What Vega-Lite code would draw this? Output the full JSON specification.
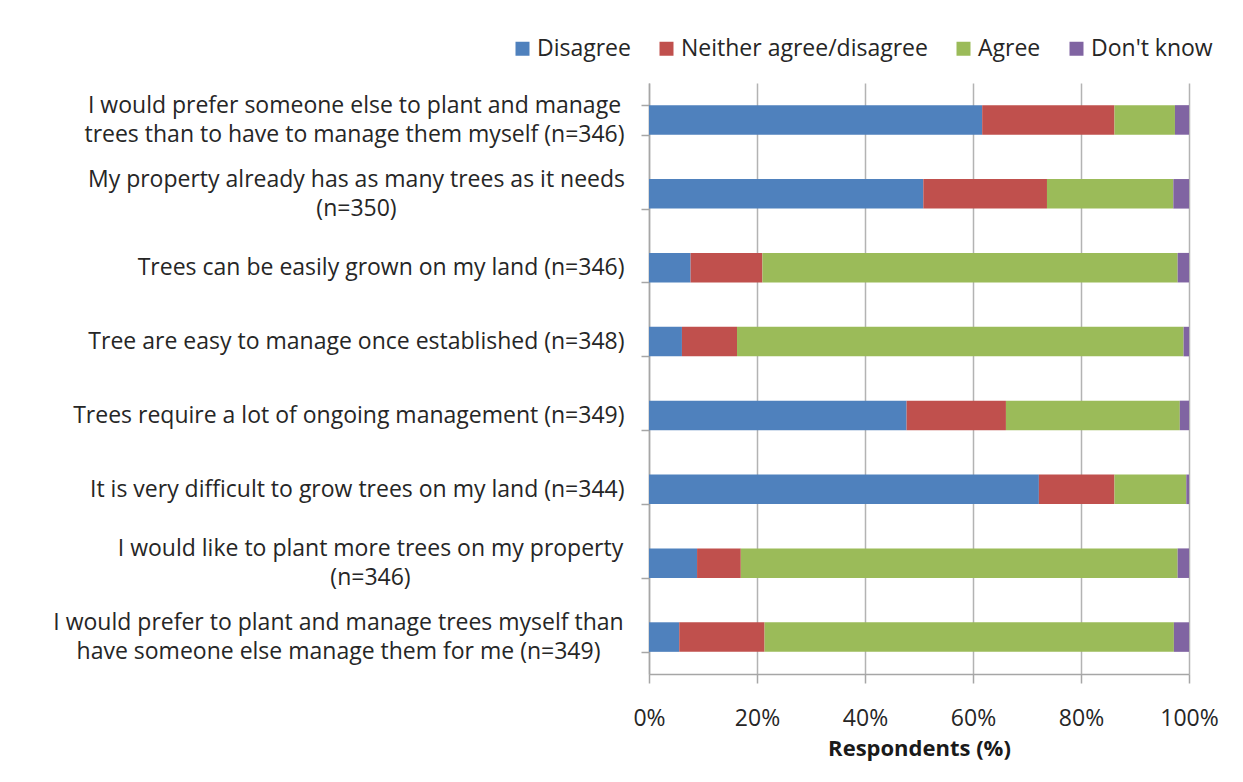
{
  "$schema": "https://vega.github.io/schema/vega-lite/v6.json",
  "autosize": {"type": "none"},
  "padding": {"left": 649, "top": 83, "right": 54, "bottom": 108},
  "width": 540,
  "height": 591,
  "background": "white",
  "config": {
    "view": {"stroke": null},
    "font": "Open Sans"
  },
  "data": {
    "values": [
      {"q": "q1", "qo": 1, "resp": "Disagree", "ro": 1, "pct": 61.7},
      {"q": "q1", "qo": 1, "resp": "Neither agree/disagree", "ro": 2, "pct": 24.5},
      {"q": "q1", "qo": 1, "resp": "Agree", "ro": 3, "pct": 11.2},
      {"q": "q1", "qo": 1, "resp": "Don't know", "ro": 4, "pct": 2.6},
      {"q": "q2", "qo": 2, "resp": "Disagree", "ro": 1, "pct": 50.8},
      {"q": "q2", "qo": 2, "resp": "Neither agree/disagree", "ro": 2, "pct": 22.9},
      {"q": "q2", "qo": 2, "resp": "Agree", "ro": 3, "pct": 23.4},
      {"q": "q2", "qo": 2, "resp": "Don't know", "ro": 4, "pct": 2.9},
      {"q": "q3", "qo": 3, "resp": "Disagree", "ro": 1, "pct": 7.7},
      {"q": "q3", "qo": 3, "resp": "Neither agree/disagree", "ro": 2, "pct": 13.3},
      {"q": "q3", "qo": 3, "resp": "Agree", "ro": 3, "pct": 76.9},
      {"q": "q3", "qo": 3, "resp": "Don't know", "ro": 4, "pct": 2.1},
      {"q": "q4", "qo": 4, "resp": "Disagree", "ro": 1, "pct": 6.1},
      {"q": "q4", "qo": 4, "resp": "Neither agree/disagree", "ro": 2, "pct": 10.2},
      {"q": "q4", "qo": 4, "resp": "Agree", "ro": 3, "pct": 82.7},
      {"q": "q4", "qo": 4, "resp": "Don't know", "ro": 4, "pct": 1.0},
      {"q": "q5", "qo": 5, "resp": "Disagree", "ro": 1, "pct": 47.7},
      {"q": "q5", "qo": 5, "resp": "Neither agree/disagree", "ro": 2, "pct": 18.4},
      {"q": "q5", "qo": 5, "resp": "Agree", "ro": 3, "pct": 32.2},
      {"q": "q5", "qo": 5, "resp": "Don't know", "ro": 4, "pct": 1.7},
      {"q": "q6", "qo": 6, "resp": "Disagree", "ro": 1, "pct": 72.2},
      {"q": "q6", "qo": 6, "resp": "Neither agree/disagree", "ro": 2, "pct": 14.0},
      {"q": "q6", "qo": 6, "resp": "Agree", "ro": 3, "pct": 13.3},
      {"q": "q6", "qo": 6, "resp": "Don't know", "ro": 4, "pct": 0.5},
      {"q": "q7", "qo": 7, "resp": "Disagree", "ro": 1, "pct": 8.9},
      {"q": "q7", "qo": 7, "resp": "Neither agree/disagree", "ro": 2, "pct": 8.1},
      {"q": "q7", "qo": 7, "resp": "Agree", "ro": 3, "pct": 80.9},
      {"q": "q7", "qo": 7, "resp": "Don't know", "ro": 4, "pct": 2.1},
      {"q": "q8", "qo": 8, "resp": "Disagree", "ro": 1, "pct": 5.6},
      {"q": "q8", "qo": 8, "resp": "Neither agree/disagree", "ro": 2, "pct": 15.8},
      {"q": "q8", "qo": 8, "resp": "Agree", "ro": 3, "pct": 75.8},
      {"q": "q8", "qo": 8, "resp": "Don't know", "ro": 4, "pct": 2.8}
    ]
  },
  "mark": {"type": "bar"},
  "encoding": {
    "y": {
      "field": "q",
      "type": "nominal",
      "sort": {"field": "qo", "op": "min", "order": "ascending"},
      "scale": {"paddingInner": 0.6, "paddingOuter": 0.3},
      "axis": {
        "title": null,
        "labelExpr": "datum.value == 'q1' ? ['I would prefer someone else to plant and manage', 'trees than to have to manage them myself (n=346)'] : datum.value == 'q2' ? ['My property already has as many trees as it needs', '(n=350)'] : datum.value == 'q3' ? 'Trees can be easily grown on my land (n=346)' : datum.value == 'q4' ? 'Tree are easy to manage once established (n=348)' : datum.value == 'q5' ? 'Trees require a lot of ongoing management (n=349)' : datum.value == 'q6' ? 'It is very difficult to grow trees on my land (n=344)' : datum.value == 'q7' ? ['I would like to plant more trees on my property', '(n=346)'] : datum.value == 'q8' ? ['I would prefer to plant and manage trees myself than', 'have someone else manage them for me (n=349)'] : ''",
        "labelFontSize": 23,
        "labelColor": "#262626",
        "labelLineHeight": 29,
        "labelLimit": 700,
        "labelAlign": {"condition": {"test": "datum.value == 'q1' || datum.value == 'q2' || datum.value == 'q7' || datum.value == 'q8'", "value": "center"}, "value": "right"},
        "labelOffset": {"condition": {"test": "datum.value == 'q1' || datum.value == 'q2' || datum.value == 'q7' || datum.value == 'q8'", "value": -14.5}, "value": 0},
        "labelPadding": {"condition": [
          {"test": "datum.value == 'q1'", "value": 287},
          {"test": "datum.value == 'q2'", "value": 285},
          {"test": "datum.value == 'q7'", "value": 271},
          {"test": "datum.value == 'q8'", "value": 303}
        ], "value": 17},
        "tickBand": "extent",
        "tickSize": 8,
        "tickColor": "#a6a6a6",
        "tickWidth": 1.5,
        "domainColor": "#a6a6a6",
        "domainWidth": 1.5
      }
    },
    "x": {
      "field": "pct",
      "type": "quantitative",
      "stack": "normalize",
      "scale": {"domain": [0, 1]},
      "axis": {
        "title": "Respondents (%)",
        "titleFontSize": 22,
        "titleFontWeight": "bold",
        "titleColor": "#1a1a1a",
        "titlePadding": 8,
        "format": ".0%",
        "values": [0, 0.2, 0.4, 0.6, 0.8, 1],
        "labelFontSize": 23,
        "labelColor": "#262626",
        "labelPadding": 24,
        "labelFlush": false,
        "tickSize": 9,
        "tickColor": "#a6a6a6",
        "tickWidth": 1.5,
        "domainColor": "#a6a6a6",
        "domainWidth": 1.5,
        "grid": true,
        "gridColor": "#b3b3b3",
        "gridWidth": 1.5
      }
    },
    "color": {
      "field": "resp",
      "type": "nominal",
      "scale": {
        "domain": ["Disagree", "Neither agree/disagree", "Agree", "Don't know"],
        "range": ["#4F81BD", "#C0504D", "#9BBB59", "#8064A2"]
      },
      "legend": {
        "title": null,
        "orient": "none",
        "direction": "horizontal",
        "legendX": -138,
        "legendY": -46,
        "symbolType": "square",
        "symbolSize": 196,
        "symbolStrokeWidth": 0,
        "labelFontSize": 23,
        "labelColor": "#262626",
        "labelOffset": 3,
        "columnPadding": 24,
        "labelLimit": 400
      }
    },
    "order": {"field": "ro", "type": "quantitative", "sort": "ascending"}
  }
}
